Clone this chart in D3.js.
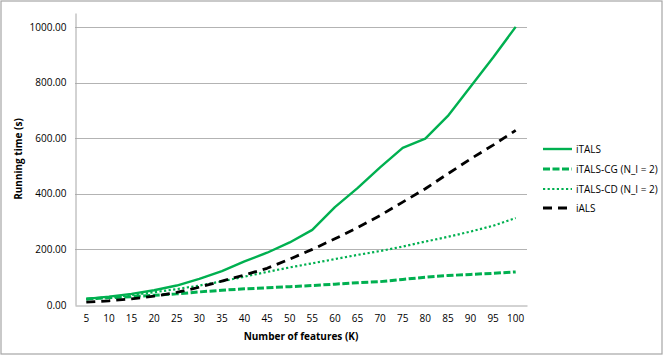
<!DOCTYPE html>
<html>
<head>
<meta charset="utf-8">
<script src="https://cdn.jsdelivr.net/npm/d3@7"></script>
<style>
  body { margin: 0; background: #fff; }
  svg text { font-family: "Open Sans", sans-serif; fill: #000; }
</style>
</head>
<body>
<svg id="chart" width="664" height="356"></svg>
<script>
// Chart data
var features = [5, 10, 15, 20, 25, 30, 35, 40, 45, 50, 55, 60, 65, 70, 75, 80, 85, 90, 95, 100];
var iTALS   = [22, 30, 40, 53, 70, 94, 122, 157, 188, 225, 270, 352, 420, 495, 565, 598, 680, 785, 890, 1000];
var iTALSCG = [22, 26, 30, 35, 40, 47, 53, 58, 62, 66, 70, 75, 80, 84, 92, 100, 106, 110, 114, 119];
var iTALSCD = [20, 28, 36, 46, 57, 70, 85, 102, 119, 135, 150, 165, 180, 194, 210, 228, 245, 264, 285, 313];
var iALS    = [10, 15, 22, 32, 45, 64, 86, 108, 132, 165, 200, 238, 278, 322, 370, 418, 472, 525, 575, 628];
var yTicks  = [0, 200, 400, 600, 800, 1000];

var seriesNames = ['iTALS', 'iTALS-CG (N_I = 2)', 'iTALS-CD (N_I = 2)', 'iALS'];
var seriesData = [iTALS, iTALSCG, iTALSCD, iALS];
var green = '#00b050';
var styles = [
  {color: green, width: 2.4, dash: null},
  {color: green, width: 3, dash: '7,2.5'},
  {color: green, width: 2.2, dash: '2.2,2.4'},
  {color: '#000', width: 2.8, dash: '9,6'}
];

var drawChart = function () {
  let svg = d3.select('#chart');

  // outer chart border
  svg.append('rect')
    .attr('x', 1).attr('y', 1).attr('width', 661).attr('height', 353)
    .attr('fill', 'none').attr('stroke', '#a6a6a6').attr('stroke-width', 1.2);

  let plotLeft = 75, plotRight = 527, plotTop = 13, plotBottom = 305;

  let x = d3.scaleBand().domain(features).range([plotLeft, plotRight]);
  let y = d3.scaleLinear().domain([0, 1050]).range([plotBottom, plotTop]);

  // gridlines
  svg.append('g')
    .selectAll('line')
    .data(yTicks.filter(d => d > 0))
    .join('line')
    .attr('x1', plotLeft).attr('x2', plotRight)
    .attr('y1', d => Math.round(y(d)) + 0.5).attr('y2', d => Math.round(y(d)) + 0.5)
    .attr('stroke', '#b3b3b3').attr('stroke-width', 1);

  // y axis
  let yAxis = svg.append('g')
    .attr('transform', `translate(${plotLeft + 0.5},0)`)
    .call(d3.axisLeft(y).tickValues(yTicks).tickFormat(d3.format('.2f')).tickSize(0).tickPadding(9));
  yAxis.select('.domain').attr('stroke', '#a6a6a6').attr('stroke-width', 1);
  yAxis.selectAll('text').attr('font-size', 10).style('font-family', '"Open Sans", sans-serif');

  // x axis
  let xAxis = svg.append('g')
    .attr('transform', `translate(0,${plotBottom + 0.5})`)
    .call(d3.axisBottom(x).tickSize(0).tickPadding(9));
  xAxis.select('.domain').attr('stroke', '#a6a6a6').attr('stroke-width', 1);
  xAxis.selectAll('text').attr('font-size', 10).style('font-family', '"Open Sans", sans-serif');

  // axis titles
  svg.append('text')
    .attr('x', (plotLeft + plotRight) / 2).attr('y', 340)
    .attr('text-anchor', 'middle').attr('font-size', 10).attr('font-weight', 'bold')
    .text('Number of features (K)');
  svg.append('text')
    .attr('transform', `translate(22,${(plotTop + plotBottom) / 2}) rotate(-90)`)
    .attr('text-anchor', 'middle').attr('font-size', 10).attr('font-weight', 'bold')
    .text('Running time (s)');

  // series lines
  let line = d3.line()
    .x((d, i) => x(features[i]) + x.bandwidth() / 2)
    .y(d => y(d));

  seriesData.forEach(function (vals, i) {
    let s = styles[i];
    svg.append('path')
      .datum(vals)
      .attr('d', line)
      .attr('fill', 'none')
      .attr('stroke', s.color)
      .attr('stroke-width', s.width)
      .attr('stroke-dasharray', s.dash)
      .attr('stroke-linejoin', 'round');
  });

  // legend
  let legendY = [149, 169, 189, 208];
  seriesNames.forEach(function (name, i) {
    let s = styles[i];
    svg.append('line')
      .attr('x1', 543).attr('x2', 572)
      .attr('y1', legendY[i]).attr('y2', legendY[i])
      .attr('stroke', s.color).attr('stroke-width', s.width)
      .attr('stroke-dasharray', s.dash);
    svg.append('text')
      .attr('x', 576).attr('y', legendY[i]).attr('dy', '0.35em')
      .attr('font-size', 10)
      .text(name);
  });
};

drawChart();
</script>
</body>
</html>
